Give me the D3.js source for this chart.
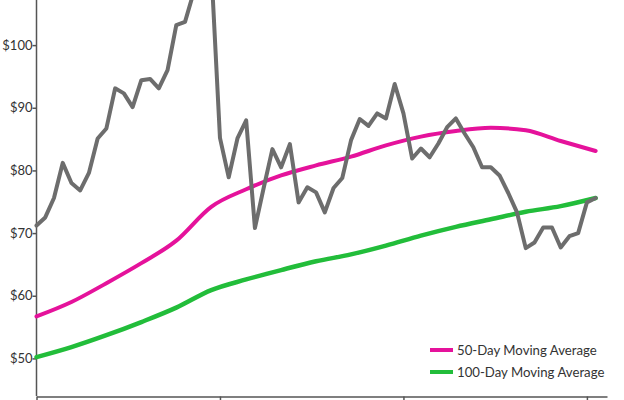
<!DOCTYPE html>
<html>
<head>
<meta charset="utf-8">
<script src="https://cdn.jsdelivr.net/npm/d3@7"></script>
<style>
  body { margin: 0; background: #fff; }
  svg { display: block; }
</style>
</head>
<body>
<div id="vis"></div>
<script>
const FRAME_WIDTH = 624;
const FRAME_HEIGHT = 400;

// daily closing price (trading day index 0..64)
const PRICE = [71.2, 72.5, 75.6, 81.2, 78.0, 76.8, 79.6, 85.1, 86.7, 93.1,
               92.3, 90.1, 94.4, 94.6, 93.1, 96.0, 103.2, 103.7, 108.5, 113.5,
               112.5, 85.2, 78.9, 85.1, 88.0, 70.8, 77.2, 83.4, 80.5, 84.2,
               74.9, 77.3, 76.5, 73.3, 77.2, 78.8, 84.8, 88.2, 87.1, 89.1,
               88.3, 93.8, 89.1, 81.9, 83.5, 82.1, 84.3, 86.9, 88.3, 85.9,
               83.7, 80.5, 80.5, 79.2, 76.4, 73.3, 67.6, 68.5, 70.9, 70.9,
               67.7, 69.5, 70.0, 74.9, 75.6];

// moving averages read every 4th trading day
const MA_DAYS = [0, 4, 8, 12, 16, 20, 24, 28, 32, 36, 40, 44, 48, 52, 56, 60, 64];
const MA50 = [56.7, 59.0, 62.0, 65.2, 68.8, 74.2, 77.0, 79.2, 80.8, 82.2, 84.0,
              85.4, 86.3, 86.8, 86.4, 84.7, 83.1];
const MA100 = [50.2, 51.8, 53.7, 55.8, 58.1, 60.9, 62.6, 64.1, 65.5, 66.6, 68.0,
               69.6, 71.0, 72.2, 73.4, 74.3, 75.6];

const Y_TICKS = [50, 60, 70, 80, 90, 100];
const X_TICKS = [0, 21, 42, 63];

const LEGEND = ["50-Day Moving Average", "100-Day Moving Average"];
const COLORS = {price: "#6d6d6d", ma50: "#e5129b", ma100: "#22bd3a"};

const FRAME = d3.select("#vis")
                .append("svg")
                  .attr("width", FRAME_WIDTH)
                  .attr("height", FRAME_HEIGHT);

const X_SCALE = d3.scaleLinear()
                  .domain([0, 65.3])
                  .range([36.5, 607]);

const Y_SCALE = d3.scaleLinear()
                  .domain([44, 107.2])
                  .range([396, 0]);

// axes
const yAxis = FRAME.append("g")
     .attr("transform", "translate(36.5,0)")
     .call(d3.axisLeft(Y_SCALE).tickValues(Y_TICKS)
             .tickFormat(d => "$" + d).tickSize(4).tickSizeOuter(0));
yAxis.select(".domain").remove();
yAxis.append("line")
     .attr("y1", 0).attr("y2", 396)
     .attr("stroke", "#555").attr("stroke-width", 1.5);
yAxis.selectAll(".tick line").attr("stroke", "#555").attr("stroke-width", 1.5);
yAxis.selectAll(".tick text")
     .attr("x", -4)
     .attr("fill", "#333")
     .attr("font-family", "Lato, 'Liberation Sans', sans-serif")
     .attr("font-size", 13);

const xAxis = FRAME.append("g")
     .attr("transform", "translate(0,396.5)")
     .call(d3.axisBottom(X_SCALE).tickValues(X_TICKS)
             .tickFormat("").tickSize(6).tickSizeOuter(0));
xAxis.select(".domain").attr("stroke", "#555").attr("stroke-width", 1.5);
xAxis.selectAll(".tick line").attr("stroke", "#555").attr("stroke-width", 1.5);

// lines
const priceLine = d3.line()
                    .x((d, i) => X_SCALE(i))
                    .y(d => Y_SCALE(d));

const maLine = d3.line()
                 .x(d => X_SCALE(d[0]))
                 .y(d => Y_SCALE(d[1]))
                 .curve(d3.curveMonotoneX);

FRAME.append("path")
     .datum(d3.zip(MA_DAYS, MA100))
     .attr("d", maLine)
     .attr("fill", "none")
     .attr("stroke", COLORS.ma100)
     .attr("stroke-width", 4.5)
     .attr("stroke-linecap", "round");

FRAME.append("path")
     .datum(d3.zip(MA_DAYS, MA50))
     .attr("d", maLine)
     .attr("fill", "none")
     .attr("stroke", COLORS.ma50)
     .attr("stroke-width", 4)
     .attr("stroke-linecap", "round");

FRAME.append("path")
     .datum(PRICE)
     .attr("d", priceLine)
     .attr("fill", "none")
     .attr("stroke", COLORS.price)
     .attr("stroke-width", 4)
     .attr("stroke-linejoin", "round")
     .attr("stroke-linecap", "round");

// legend
const legend = FRAME.append("g").attr("transform", "translate(430,350)");
[COLORS.ma50, COLORS.ma100].forEach((c, i) => {
  const row = legend.append("g").attr("transform", "translate(0," + (i * 22) + ")");
  row.append("line")
     .attr("x1", 0).attr("x2", 23)
     .attr("stroke", c).attr("stroke-width", 4);
  row.append("text")
     .attr("x", 27).attr("y", 5)
     .attr("fill", "#333")
     .attr("font-family", "Lato, 'Liberation Sans', sans-serif")
     .attr("font-size", 13.2)
     .text(LEGEND[i]);
});
</script>
</body>
</html>
